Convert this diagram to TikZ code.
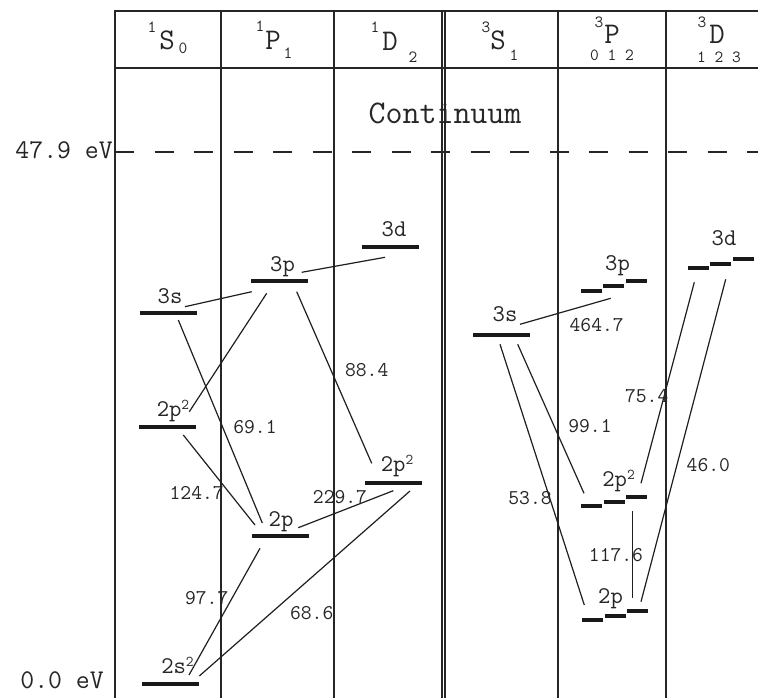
\documentclass[tikz,border=0pt]{standalone}
\usepackage{fontspec}
\newcommand{\fsz}[1]{\fontsize{#1}{#1}\selectfont}
\newcommand{\sqr}{\raisebox{7pt}{\fsz{15}2}}
\begin{document}
\begin{tikzpicture}[x=1pt,y=-1pt,
  frame/.style={line width=1.3pt, draw=black!85},
  lvl/.style={fill=black!90, draw=none, minimum width=57pt, minimum height=4pt, inner sep=0pt, outer sep=0pt},
  sublvl/.style={lvl, minimum width=21pt},
  trans/.style={line width=1.2pt, draw=black!88},
  lab/.style={font=\ttfamily\fsz{24}, inner sep=0pt, anchor=base, text=black!85},
  num/.style={font=\ttfamily\fsz{21}, inner sep=0pt, text=black!85},
  hbig/.style={font=\ttfamily\fsz{30}, inner sep=0pt, text=black!85},
  hsmall/.style={font=\ttfamily\fsz{17}, inner sep=0pt, text=black!85},
  evlab/.style={font=\ttfamily\fsz{27}, inner sep=0pt, anchor=east, text=black!85}]
\useasboundingbox (0,0) rectangle (758,698);
\fill[white] (0,0) rectangle (758,698);

% frame
\draw[frame] (115,698) -- (115,11) -- (758,11);
\draw[frame] (115,68) -- (758,68);
\foreach \x in {221,334,442,445,558,666} \draw[frame] (\x,11) -- (\x,698);
\draw[frame, dash pattern=on 19pt off 20.5pt] (115,152) -- (758,152);

% headers
\node[hbig] (hS0) at (167,40) {S};
\node[hsmall] (hS0a) at (152,27) {1};
\node[hsmall] (hS0b) at (183,48) {0};
\node[hbig] (hP1) at (273,40) {P};
\node[hsmall] (hP1a) at (260,26) {1};
\node[hsmall] (hP1b) at (288,53) {1};
\node[hbig] (hD2) at (390,41) {D};
\node[hsmall] (hD2a) at (375,27) {1};
\node[hsmall] (hD2b) at (413,57) {2};
\node[hbig] (hS1) at (498,40) {S};
\node[hsmall] (hS1a) at (486,27) {3};
\node[hsmall] (hS1b) at (514,55) {1};
\node[hbig] (hP) at (612,34) {P};
\node[hsmall] (hPa) at (599,22) {3};
\node[hsmall] (hPb) at (612,55) {0 1 2};
\node[hbig] (hD) at (717,34) {D};
\node[hsmall] (hDa) at (702,22) {3};
\node[hsmall] (hDb) at (719,57) {1 2 3};

\node[font=\ttfamily\fsz{33}, inner sep=0pt, text=black!85] (cont) at (445,113) {Continuum};
\node[evlab] (ev47) at (113,150) {47.9 eV};
\node[evlab] (ev0) at (104,680) {0.0 eV};

% singlet levels
\node[lvl] (s2s) at (170.5,683.5) {};
\node[lvl] (s2p) at (280.5,535.5) {};
\node[lvl] (s2ppS) at (167.5,426.7) {};
\node[lvl] (s3s) at (168.3,312.7) {};
\node[lvl] (s3p) at (279.3,281) {};
\node[lvl] (s3d) at (390.3,246.7) {};
\node[lvl] (s2ppD) at (393.3,482.7) {};

\node[lab] (ls2s) at (177.5,673) {2s\sqr};
\node[lab] (ls2p) at (281,526.7) {2p};
\node[lab] (ls2ppS) at (173,416.7) {2p\sqr};
\node[lab] (ls3s) at (170,303.3) {3s};
\node[lab] (ls3p) at (282.5,271.7) {3p};
\node[lab] (ls3d) at (394,236.7) {3d};
\node[lab] (ls2ppD) at (397,471.7) {2p\sqr};

% triplet levels
\node[lvl] (t3s) at (501.5,335) {};
\node[sublvl] (t3pa) at (591.5,291) {};
\node[sublvl] (t3pb) at (613.5,286) {};
\node[sublvl] (t3pc) at (636.5,281) {};
\node[sublvl] (t2ppa) at (591.5,506) {};
\node[sublvl] (t2ppb) at (614.5,502) {};
\node[sublvl] (t2ppc) at (636.5,497) {};
\node[sublvl] (t2pa) at (592.5,620) {};
\node[sublvl] (t2pb) at (615.5,616) {};
\node[sublvl] (t2pc) at (637.5,611) {};
\node[sublvl] (t3da) at (698.5,268) {};
\node[sublvl] (t3db) at (720.5,264) {};
\node[sublvl] (t3dc) at (743.5,259) {};

\node[lab] (lt3s) at (505,321.7) {3s};
\node[lab] (lt3p) at (617.5,270) {3p};
\node[lab] (lt2pp) at (618.5,486.7) {2p\sqr};
\node[lab] (lt2p) at (610.5,603.3) {2p};
\node[lab] (lt3d) at (724,245) {3d};

% singlet transition end points
\coordinate (a1) at (185,306.7);   \coordinate (a2) at (251.7,291.7);
\coordinate (b1) at (301.7,272.3); \coordinate (b2) at (385,257.3);
\coordinate (c1) at (178.3,320);   \coordinate (c2) at (262.3,523);
\coordinate (d1) at (266.7,293.3); \coordinate (d2) at (189.3,411.7);
\coordinate (e1) at (296.7,291.7); \coordinate (e2) at (371.7,463.3);
\coordinate (f1) at (183.3,435);   \coordinate (f2) at (255,525);
\coordinate (g1) at (298.3,527.7); \coordinate (g2) at (393.3,490.7);
\coordinate (h1) at (410,491);     \coordinate (h2) at (199.3,676);
\coordinate (i1) at (260,548.3);   \coordinate (i2) at (189,675);

\draw[trans] (a1) -- (a2);
\draw[trans] (b1) -- (b2);
\draw[trans] (c1) -- (c2);
\draw[trans] (d1) -- (d2);
\draw[trans] (e1) -- (e2);
\draw[trans] (f1) -- (f2);
\draw[trans] (g1) -- (g2);
\draw[trans] (h1) -- (h2);
\draw[trans] (i1) -- (i2);

% triplet transition end points
\coordinate (j1) at (520,324.3);   \coordinate (j2) at (610.7,298.3);
\coordinate (k1) at (500,344.3);   \coordinate (k2) at (584.3,605);
\coordinate (l1) at (517.7,344.3); \coordinate (l2) at (584,493.3);
\coordinate (m1) at (641,483.3);   \coordinate (m2) at (694.3,282.3);
\coordinate (n1) at (641,601.7);   \coordinate (n2) at (725.7,279.3);
\coordinate (o1) at (632.3,511);   \coordinate (o2) at (632.3,598.3);

\draw[trans] (j1) -- (j2);
\draw[trans] (k1) -- (k2);
\draw[trans] (l1) -- (l2);
\draw[trans] (m1) -- (m2);
\draw[trans] (n1) -- (n2);
\draw[trans] (o1) -- (o2);

% wavelength labels
\node[num] (w691) at (255,427) {69.1};
\node[num] (w1247) at (196.7,493) {124.7};
\node[num] (w884) at (366.7,370) {88.4};
\node[num] (w2297) at (340,496.7) {229.7};
\node[num] (w977) at (206.7,598) {97.7};
\node[num] (w686) at (311.7,613) {68.6};
\node[num] (w4647) at (596.7,325) {464.7};
\node[num] (w754) at (646.7,395.7) {75.4};
\node[num] (w991) at (590,426) {99.1};
\node[num] (w460) at (708.3,465) {46.0};
\node[num] (w538) at (530,497.7) {53.8};
\node[num] (w1176) at (616,555) {117.6};
\end{tikzpicture}
\end{document}
